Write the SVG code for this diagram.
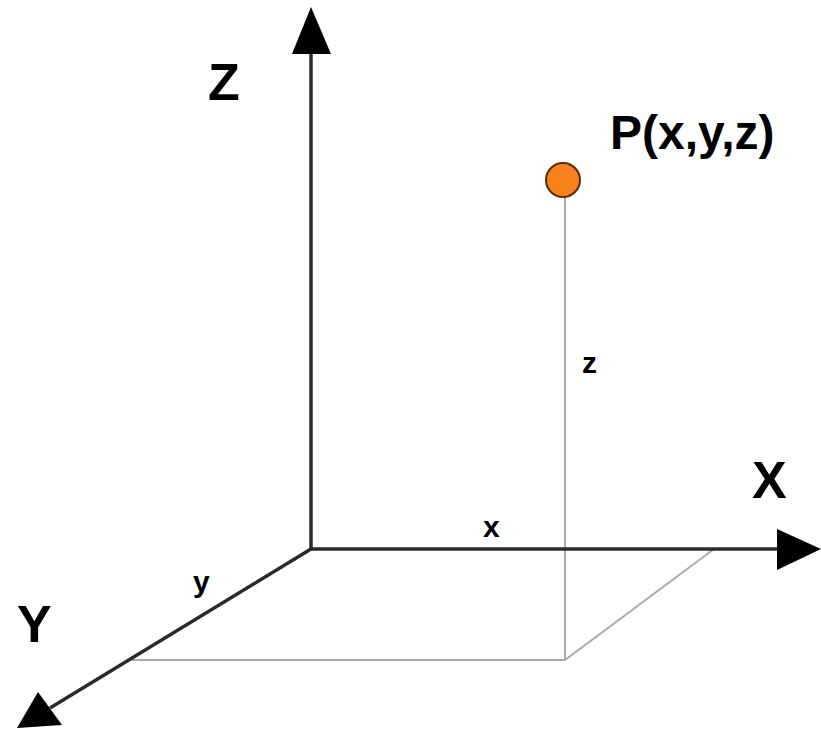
<svg xmlns="http://www.w3.org/2000/svg" width="821" height="733" viewBox="0 0 821 733">
<style>
.axis{stroke:#2a2a2a;stroke-width:3.5;fill:none}
.guide{stroke:#aaaaaa;stroke-width:2;fill:none}
.head{fill:#000}
.big{font-family:"Liberation Sans",Arial,sans-serif;font-weight:bold;font-size:52px;fill:#000}
.small{font-family:"Liberation Sans",Arial,sans-serif;font-weight:bold;font-size:30px;fill:#000}
</style>
<rect width="821" height="733" fill="#fff"/>
<g id="connectors">
<line class="guide" x1="565" y1="196" x2="565" y2="660"/>
<line class="guide" x1="132" y1="660" x2="565" y2="660"/>
<line class="guide" x1="565" y1="660" x2="714" y2="549"/>
<line class="axis" x1="311" y1="549" x2="311" y2="50"/>
<line class="axis" x1="311" y1="549" x2="780" y2="549"/>
<line class="axis" x1="311" y1="549" x2="50" y2="708"/>
<polygon class="head" points="311,7 292,54 331,54"/>
<polygon class="head" points="821,549 777,529 777,570"/>
<polygon class="head" points="17,728 38,692 62,725"/>
</g>
<g id="axis-z"><text class="big" x="208" y="100">Z</text></g>
<g id="axis-x"><text class="big" x="752" y="498">X</text></g>
<g id="axis-y"><text class="big" x="17" y="642">Y</text></g>
<g id="point-p">
<circle cx="563" cy="180" r="17" fill="#f7821e" stroke="#5b2a08" stroke-width="2"/>
<text class="big" x="610" y="149" style="font-size:48px">P(x,y,z)</text>
</g>
<g id="labels">
<text class="small" x="483" y="537">x</text>
<text class="small" x="193" y="592">y</text>
<text class="small" x="582" y="373">z</text>
</g>
</svg>
